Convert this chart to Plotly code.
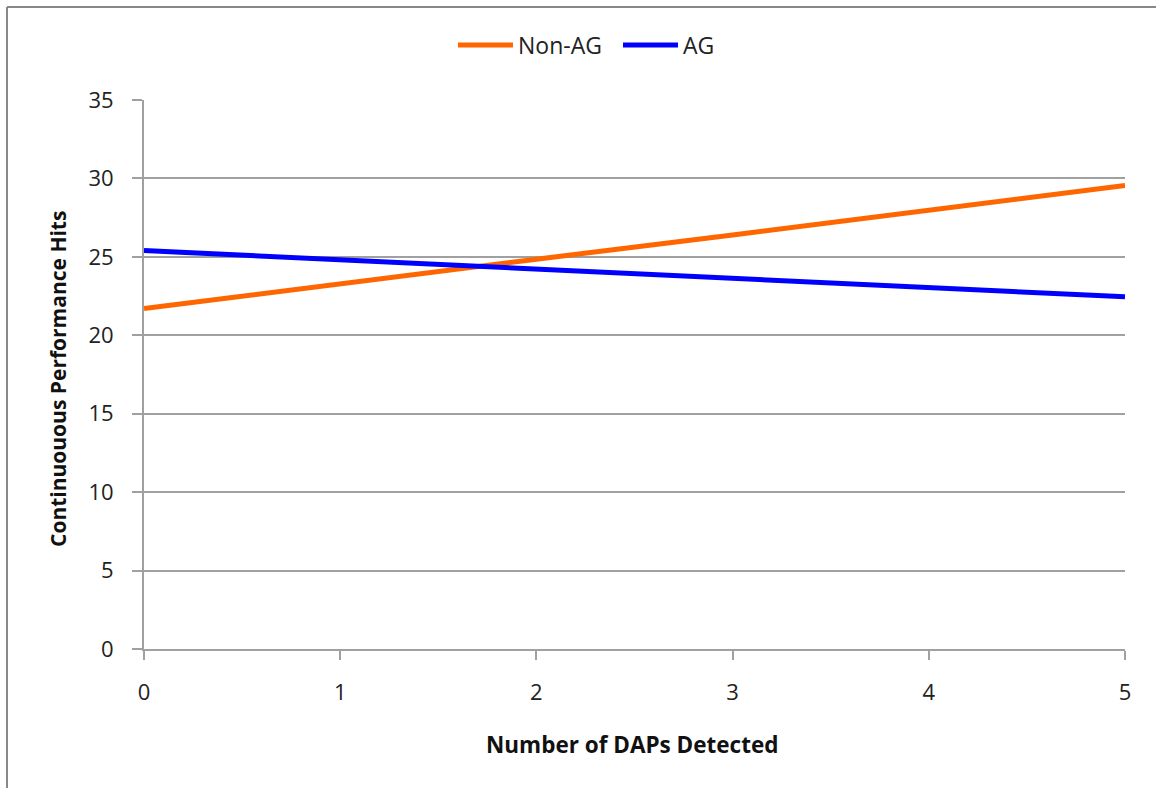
import plotly.graph_objects as go

x_vals = [0, 1, 2, 3, 4, 5]
non_ag = [21.7, 23.3, 24.85, 26.4, 27.95, 29.55]
ag = [25.4, 24.8, 24.2, 23.6, 23.0, 22.45]
series_names = ["Non-AG", "AG"]
x_ticks = [0, 1, 2, 3, 4, 5]
y_ticks = [0, 5, 10, 15, 20, 25, 30, 35]

FONT = "Open Sans"

fig = go.Figure()
fig.add_trace(go.Scatter(x=x_vals, y=non_ag, mode="lines", name=series_names[0],
                         line=dict(color="#FF6600", width=5)))
fig.add_trace(go.Scatter(x=x_vals, y=ag, mode="lines", name=series_names[1],
                         line=dict(color="#0000FF", width=5)))

fig.update_layout(
    width=1156, height=788,
    margin=dict(l=144, r=31, t=100, b=139),
    paper_bgcolor="white", plot_bgcolor="white",
    font=dict(family=FONT, size=22, color="#222222"),
    showlegend=True,
    legend=dict(orientation="h", x=(453 / 1156), xanchor="left", xref="container",
                y=1 - 45 / 788, yref="container", yanchor="middle",
                font=dict(family=FONT, size=23, color="#222222"),
                itemwidth=55, entrywidth=95, entrywidthmode="pixels", tracegroupgap=0),
    xaxis=dict(range=[0, 5], tickvals=x_ticks, showgrid=False, zeroline=False,
               showline=True, linecolor="#A0A0A0", linewidth=2,
               ticks="outside", ticklen=9, tickwidth=2, tickcolor="#A0A0A0",
               ticklabelstandoff=14,
               tickfont=dict(family=FONT, size=22, color="#222222")),
    yaxis=dict(range=[0, 35], tickvals=y_ticks, showgrid=True, gridcolor="#A0A0A0",
               gridwidth=1.5, zeroline=False,
               showline=True, linecolor="#A0A0A0", linewidth=2,
               ticks="outside", ticklen=10, tickwidth=2, tickcolor="#A0A0A0",
               ticklabelstandoff=14,
               tickfont=dict(family=FONT, size=22, color="#222222")),
)

# axis titles
fig.add_annotation(text="<b>Number of DAPs Detected</b>", xref="paper", yref="paper",
                   x=(632 - 144) / 981, y=(649 - 744) / 549, xanchor="center", yanchor="middle",
                   showarrow=False, font=dict(family=FONT, size=22.5, color="#111111"))
fig.add_annotation(text="<b>Continuouous Performance Hits</b>", xref="paper", yref="paper",
                   x=(58 - 144) / 981, y=(649 - 379) / 549, xanchor="center", yanchor="middle",
                   textangle=-90, showarrow=False,
                   font=dict(family=FONT, size=21, color="#111111"))

# outer frame lines (left and top)
fig.add_shape(type="line", xref="paper", yref="paper",
              x0=(7 - 144) / 981, x1=(7 - 144) / 981, y0=(649 - 7) / 549, y1=(649 - 800) / 549,
              line=dict(color="#888888", width=2))
fig.add_shape(type="line", xref="paper", yref="paper",
              x0=(7 - 144) / 981, x1=(1170 - 144) / 981, y0=(649 - 7) / 549, y1=(649 - 7) / 549,
              line=dict(color="#888888", width=2))

fig.write_html("out.html", config={"displayModeBar": False},
               post_script="document.body.style.margin='0';document.body.style.overflow='hidden';")
